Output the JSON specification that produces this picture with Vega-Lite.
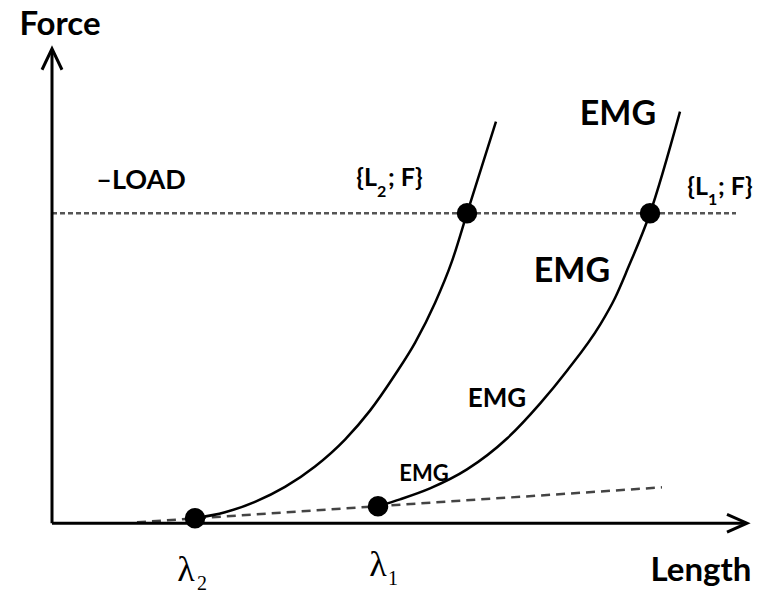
{
  "$schema": "https://vega.github.io/schema/vega-lite/v6.json",
  "width": 767,
  "height": 594,
  "autosize": {"type": "fit", "contains": "padding"},
  "padding": 0,
  "background": "white",
  "config": {"view": {"stroke": null}},
  "datasets": {
    "lines": [
      {"series": "yaxis", "kind": "axis", "o": 1, "x": 52, "y": 69},
      {"series": "yaxis", "kind": "axis", "o": 2, "x": 52, "y": 544},
      {"series": "yarrow", "kind": "axis", "o": 1, "x": 42, "y": 524},
      {"series": "yarrow", "kind": "axis", "o": 2, "x": 52, "y": 545},
      {"series": "yarrow", "kind": "axis", "o": 3, "x": 62, "y": 524},
      {"series": "xaxis", "kind": "axis", "o": 1, "x": 52, "y": 69},
      {"series": "xaxis", "kind": "axis", "o": 2, "x": 746, "y": 69},
      {"series": "xarrow", "kind": "axis", "o": 1, "x": 727, "y": 78},
      {"series": "xarrow", "kind": "axis", "o": 2, "x": 747, "y": 69},
      {"series": "xarrow", "kind": "axis", "o": 3, "x": 727, "y": 60},
      {"series": "curve2", "kind": "curve", "o": 1, "x": 195, "y": 74},
      {"series": "curve2", "kind": "curve", "o": 2, "x": 225, "y": 80},
      {"series": "curve2", "kind": "curve", "o": 3, "x": 255, "y": 90.5},
      {"series": "curve2", "kind": "curve", "o": 4, "x": 285, "y": 105.5},
      {"series": "curve2", "kind": "curve", "o": 5, "x": 315, "y": 126},
      {"series": "curve2", "kind": "curve", "o": 6, "x": 345, "y": 153},
      {"series": "curve2", "kind": "curve", "o": 7, "x": 370, "y": 182},
      {"series": "curve2", "kind": "curve", "o": 8, "x": 395, "y": 218},
      {"series": "curve2", "kind": "curve", "o": 9, "x": 415, "y": 250},
      {"series": "curve2", "kind": "curve", "o": 10, "x": 435, "y": 290},
      {"series": "curve2", "kind": "curve", "o": 11, "x": 452, "y": 332},
      {"series": "curve2", "kind": "curve", "o": 12, "x": 467, "y": 380},
      {"series": "curve2", "kind": "curve", "o": 13, "x": 496, "y": 472},
      {"series": "curve1", "kind": "curve", "o": 1, "x": 378, "y": 86},
      {"series": "curve1", "kind": "curve", "o": 2, "x": 400, "y": 93},
      {"series": "curve1", "kind": "curve", "o": 3, "x": 430, "y": 104},
      {"series": "curve1", "kind": "curve", "o": 4, "x": 467, "y": 123},
      {"series": "curve1", "kind": "curve", "o": 5, "x": 507, "y": 154},
      {"series": "curve1", "kind": "curve", "o": 6, "x": 540, "y": 189},
      {"series": "curve1", "kind": "curve", "o": 7, "x": 567, "y": 222},
      {"series": "curve1", "kind": "curve", "o": 8, "x": 600, "y": 268},
      {"series": "curve1", "kind": "curve", "o": 9, "x": 615, "y": 295},
      {"series": "curve1", "kind": "curve", "o": 10, "x": 628, "y": 325},
      {"series": "curve1", "kind": "curve", "o": 11, "x": 650, "y": 380},
      {"series": "curve1", "kind": "curve", "o": 12, "x": 680, "y": 482},
      {"series": "passive", "kind": "dash", "o": 1, "x": 137, "y": 70},
      {"series": "passive", "kind": "dash", "o": 2, "x": 662, "y": 105},
      {"series": "load", "kind": "dot", "o": 1, "x": 52, "y": 380},
      {"series": "load", "kind": "dot", "o": 2, "x": 736, "y": 380}
    ],
    "points": [
      {"name": "lambda2", "x": 195, "y": 74},
      {"name": "lambda1", "x": 378, "y": 86},
      {"name": "L2F", "x": 467, "y": 380},
      {"name": "L1F", "x": 650, "y": 380}
    ],
    "labels": [
      {"style": "title", "text": "Force", "x": 60, "y": 559},
      {"style": "title", "text": "Length", "x": 701, "y": 11},
      {"style": "load", "text": "–LOAD", "x": 141, "y": 404},
      {"style": "emgL", "text": "EMG", "x": 618, "y": 469},
      {"style": "emgL", "text": "EMG", "x": 572, "y": 311},
      {"style": "emgM", "text": "EMG", "x": 497, "y": 186},
      {"style": "emgS", "text": "EMG", "x": 424, "y": 111},
      {"style": "ptR", "text": "{L", "x": 377, "y": 407},
      {"style": "ptL", "text": "; F}", "x": 388, "y": 407},
      {"style": "ptsub", "text": "2", "x": 377, "y": 396},
      {"style": "ptR", "text": "{L", "x": 708, "y": 398},
      {"style": "ptL", "text": "; F}", "x": 718, "y": 398},
      {"style": "ptsub", "text": "1", "x": 708, "y": 388},
      {"style": "lam", "text": "λ", "x": 186, "y": 11},
      {"style": "lamsub", "text": "2", "x": 197, "y": 2},
      {"style": "lam", "text": "λ", "x": 378, "y": 16},
      {"style": "lamsub", "text": "1", "x": 388, "y": 7}
    ]
  },
  "encoding": {
    "x": {"field": "x", "type": "quantitative", "scale": {"domain": [0, 767], "nice": false, "zero": false}, "axis": null},
    "y": {"field": "y", "type": "quantitative", "scale": {"domain": [0, 594], "nice": false, "zero": false}, "axis": null}
  },
  "layer": [
    {
      "data": {"name": "lines"},
      "transform": [{"filter": "datum.kind === 'dot'"}],
      "mark": {"type": "line", "color": "#555555", "strokeWidth": 2.5, "strokeDash": [5, 3]},
      "encoding": {"detail": {"field": "series"}, "order": {"field": "o"}}
    },
    {
      "data": {"name": "lines"},
      "transform": [{"filter": "datum.kind === 'dash'"}],
      "mark": {"type": "line", "color": "#444444", "strokeWidth": 2.5, "strokeDash": [9, 6]},
      "encoding": {"detail": {"field": "series"}, "order": {"field": "o"}}
    },
    {
      "data": {"name": "lines"},
      "transform": [{"filter": "datum.kind === 'axis'"}],
      "mark": {"type": "line", "color": "black", "strokeWidth": 3, "strokeJoin": "miter", "strokeCap": "butt"},
      "encoding": {"detail": {"field": "series"}, "order": {"field": "o"}}
    },
    {
      "data": {"name": "lines"},
      "transform": [{"filter": "datum.kind === 'curve'"}],
      "mark": {"type": "line", "color": "black", "strokeWidth": 2.5, "interpolate": "monotone"},
      "encoding": {"detail": {"field": "series"}, "order": {"field": "o"}}
    },
    {
      "data": {"name": "points"},
      "mark": {"type": "point", "filled": true, "color": "black", "opacity": 1, "size": 420},
      "encoding": {}
    },
    {
      "data": {"name": "labels"},
      "transform": [{"filter": "datum.style === 'title'"}],
      "mark": {"type": "text", "font": "Lato", "fontWeight": "bold", "fontSize": 33, "baseline": "alphabetic", "align": "center", "color": "black"},
      "encoding": {"text": {"field": "text"}}
    },
    {
      "data": {"name": "labels"},
      "transform": [{"filter": "datum.style === 'load'"}],
      "mark": {"type": "text", "font": "Lato", "fontWeight": "bold", "fontSize": 27, "baseline": "alphabetic", "align": "center", "color": "black"},
      "encoding": {"text": {"field": "text"}}
    },
    {
      "data": {"name": "labels"},
      "transform": [{"filter": "datum.style === 'emgL'"}],
      "mark": {"type": "text", "font": "Lato", "fontWeight": "bold", "fontSize": 34, "baseline": "alphabetic", "align": "center", "color": "black"},
      "encoding": {"text": {"field": "text"}}
    },
    {
      "data": {"name": "labels"},
      "transform": [{"filter": "datum.style === 'emgM'"}],
      "mark": {"type": "text", "font": "Lato", "fontWeight": "bold", "fontSize": 26, "baseline": "alphabetic", "align": "center", "color": "black"},
      "encoding": {"text": {"field": "text"}}
    },
    {
      "data": {"name": "labels"},
      "transform": [{"filter": "datum.style === 'emgS'"}],
      "mark": {"type": "text", "font": "Lato", "fontWeight": "bold", "fontSize": 22, "baseline": "alphabetic", "align": "center", "color": "black"},
      "encoding": {"text": {"field": "text"}}
    },
    {
      "data": {"name": "labels"},
      "transform": [{"filter": "datum.style === 'ptR'"}],
      "mark": {"type": "text", "font": "Lato", "fontWeight": "bold", "fontSize": 25, "baseline": "alphabetic", "align": "right", "color": "black"},
      "encoding": {"text": {"field": "text"}}
    },
    {
      "data": {"name": "labels"},
      "transform": [{"filter": "datum.style === 'ptL'"}],
      "mark": {"type": "text", "font": "Lato", "fontWeight": "bold", "fontSize": 25, "baseline": "alphabetic", "align": "left", "color": "black"},
      "encoding": {"text": {"field": "text"}}
    },
    {
      "data": {"name": "labels"},
      "transform": [{"filter": "datum.style === 'ptsub'"}],
      "mark": {"type": "text", "font": "Lato", "fontWeight": "bold", "fontSize": 16, "baseline": "alphabetic", "align": "left", "color": "black"},
      "encoding": {"text": {"field": "text"}}
    },
    {
      "data": {"name": "labels"},
      "transform": [{"filter": "datum.style === 'lam'"}],
      "mark": {"type": "text", "font": "Liberation Serif", "fontSize": 36, "baseline": "alphabetic", "align": "center", "color": "black"},
      "encoding": {"text": {"field": "text"}}
    },
    {
      "data": {"name": "labels"},
      "transform": [{"filter": "datum.style === 'lamsub'"}],
      "mark": {"type": "text", "font": "Liberation Serif", "fontSize": 20, "baseline": "alphabetic", "align": "left", "color": "black"},
      "encoding": {"text": {"field": "text"}}
    }
  ]
}
